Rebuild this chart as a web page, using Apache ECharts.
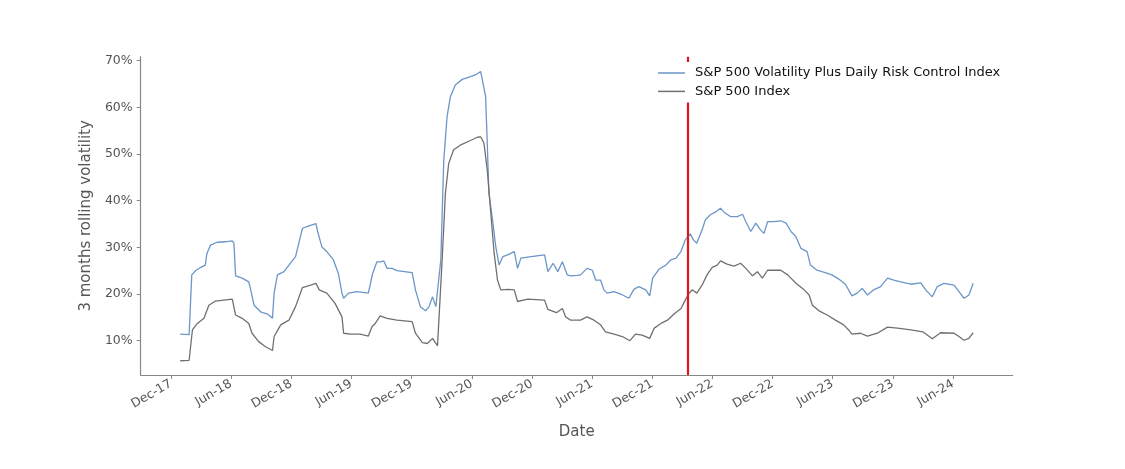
<!DOCTYPE html>
<html>
<head>
<meta charset="utf-8">
<script src="https://cdn.jsdelivr.net/npm/echarts@6/dist/echarts.min.js"></script>
<style>html,body{margin:0;padding:0;background:#fff;}#c{width:1125px;height:469px;}</style>
</head>
<body>
<div id="c"></div>
<script>
var seriesNames = ['S&P 500 Volatility Plus Daily Risk Control Index', 'S&P 500 Index'];
var tickDates = ['2017-12-01','2018-06-01','2018-12-01','2019-06-01','2019-12-01','2020-06-01','2020-12-01','2021-06-01','2021-12-01','2022-06-01','2022-12-01','2023-06-01','2023-12-01','2024-06-01'];
var tickLabels = ['Dec-17','Jun-18','Dec-18','Jun-19','Dec-19','Jun-20','Dec-20','Jun-21','Dec-21','Jun-22','Dec-22','Jun-23','Dec-23','Jun-24'];
var yTicks = [10, 20, 30, 40, 50, 60, 70];
var markerDate = '2022-03-20';

var volPlusDates = ['2017-12-29','2018-01-25','2018-01-29','2018-02-02','2018-02-15','2018-03-01','2018-03-15','2018-03-20','2018-03-31','2018-04-20','2018-05-15','2018-06-05','2018-06-10','2018-06-15','2018-07-05','2018-07-25','2018-07-31','2018-08-10','2018-08-30','2018-09-20','2018-10-05','2018-10-10','2018-10-20','2018-11-09','2018-11-24','2018-12-14','2018-12-24','2019-01-04','2019-01-24','2019-02-14','2019-02-19','2019-03-04','2019-03-19','2019-04-08','2019-04-23','2019-05-04','2019-05-09','2019-05-24','2019-06-18','2019-07-23','2019-08-05','2019-08-18','2019-08-28','2019-09-08','2019-09-18','2019-10-03','2019-10-18','2019-12-03','2019-12-13','2019-12-28','2020-01-13','2020-01-23','2020-02-03','2020-02-13','2020-02-18','2020-02-28','2020-03-08','2020-03-18','2020-03-28','2020-04-12','2020-05-03','2020-05-28','2020-06-13','2020-06-28','2020-07-03','2020-07-13','2020-07-18','2020-07-23','2020-08-03','2020-08-13','2020-08-23','2020-09-03','2020-09-18','2020-10-08','2020-10-18','2020-10-28','2020-11-28','2021-01-08','2021-01-18','2021-02-03','2021-02-17','2021-03-03','2021-03-18','2021-03-28','2021-04-17','2021-04-27','2021-05-17','2021-06-02','2021-06-12','2021-06-27','2021-07-07','2021-07-17','2021-08-07','2021-08-27','2021-09-21','2021-10-06','2021-10-21','2021-11-11','2021-11-23','2021-12-02','2021-12-21','2022-01-11','2022-01-26','2022-02-11','2022-02-26','2022-03-11','2022-03-26','2022-04-05','2022-04-15','2022-05-01','2022-05-11','2022-05-26','2022-06-11','2022-06-26','2022-07-06','2022-07-26','2022-08-16','2022-09-01','2022-09-11','2022-09-26','2022-10-11','2022-10-26','2022-11-05','2022-11-16','2022-12-05','2022-12-26','2023-01-11','2023-01-26','2023-02-10','2023-02-25','2023-03-16','2023-03-26','2023-04-15','2023-05-10','2023-05-30','2023-06-20','2023-07-10','2023-07-30','2023-08-15','2023-08-30','2023-09-15','2023-10-04','2023-10-25','2023-11-15','2023-12-04','2023-12-25','2024-01-25','2024-02-24','2024-03-10','2024-03-30','2024-04-14','2024-05-04','2024-06-04','2024-06-19','2024-07-04','2024-07-19','2024-08-01'];
var volPlusValues = [11.4,11.3,11.5,24.1,25.1,25.7,26.2,28.7,30.5,31.1,31.2,31.4,30.9,23.9,23.4,22.6,20.9,17.6,16.2,15.7,14.8,20.2,24.1,24.8,26.2,28.0,30.9,34.1,34.6,35.1,33.4,30.1,29.1,27.3,24.4,20.2,19.1,20.2,20.5,20.2,24.4,26.9,26.9,27.1,25.5,25.5,25.0,24.6,20.9,17.3,16.4,17.3,19.4,17.3,17.3,27.3,48.7,58.0,62.3,64.8,66.0,66.6,67.0,67.7,65.9,62.3,52.3,41.6,35.9,30.1,26.2,28.0,28.4,29.1,25.5,27.7,28.0,28.4,24.8,26.6,24.8,26.9,24.1,23.9,24.0,24.1,25.5,25.1,23.0,23.0,20.9,20.2,20.5,20.0,19.1,21.0,21.6,20.9,19.6,23.4,25.3,26.2,27.3,27.7,29.1,31.6,32.9,31.6,30.9,33.7,35.9,37.0,37.6,38.4,37.6,36.6,36.6,37.1,35.5,33.4,35.2,33.7,33.0,35.5,35.5,35.7,35.2,33.4,32.3,29.8,29.1,26.2,25.1,24.6,24.1,23.2,22.1,19.6,20.2,21.2,19.8,20.9,21.6,23.4,23.0,22.6,22.1,22.4,20.9,19.4,21.6,22.3,21.9,20.5,19.1,19.8,22.3];

var spxDates = ['2017-12-29','2018-01-25','2018-02-04','2018-02-19','2018-03-11','2018-03-26','2018-04-15','2018-05-10','2018-06-05','2018-06-10','2018-06-15','2018-07-05','2018-07-25','2018-08-04','2018-08-24','2018-09-14','2018-10-05','2018-10-10','2018-10-30','2018-11-24','2018-12-14','2019-01-04','2019-01-29','2019-02-14','2019-02-24','2019-03-19','2019-04-13','2019-05-04','2019-05-09','2019-05-29','2019-06-28','2019-07-23','2019-08-03','2019-08-13','2019-08-28','2019-09-18','2019-10-18','2019-12-03','2019-12-13','2020-01-03','2020-01-18','2020-02-03','2020-02-18','2020-03-03','2020-03-13','2020-03-23','2020-04-07','2020-04-27','2020-05-28','2020-06-18','2020-06-28','2020-07-08','2020-07-18','2020-07-28','2020-08-08','2020-08-18','2020-08-28','2020-09-18','2020-10-08','2020-10-18','2020-11-18','2021-01-08','2021-01-18','2021-02-13','2021-03-03','2021-03-13','2021-03-28','2021-04-27','2021-05-17','2021-06-07','2021-06-27','2021-07-12','2021-08-07','2021-09-01','2021-09-24','2021-10-11','2021-10-31','2021-11-23','2021-12-07','2021-12-27','2022-01-16','2022-02-05','2022-02-26','2022-03-11','2022-03-21','2022-04-01','2022-04-15','2022-05-01','2022-05-16','2022-06-01','2022-06-16','2022-06-26','2022-07-16','2022-08-06','2022-08-26','2022-09-11','2022-10-01','2022-10-16','2022-10-31','2022-11-16','2022-12-26','2023-01-16','2023-02-10','2023-03-07','2023-03-22','2023-04-01','2023-04-21','2023-05-16','2023-06-10','2023-07-05','2023-07-20','2023-07-30','2023-08-25','2023-09-15','2023-10-15','2023-11-15','2023-12-15','2024-01-25','2024-03-01','2024-03-30','2024-04-24','2024-06-04','2024-06-19','2024-07-04','2024-07-19','2024-08-01'];
var spxValues = [5.7,5.8,12.3,13.7,14.8,17.6,18.5,18.7,18.9,18.6,15.5,14.8,13.7,11.6,9.8,8.7,7.9,10.9,13.4,14.4,17.3,21.4,21.9,22.3,20.9,20.2,18.0,15.1,11.6,11.4,11.4,11.0,13.0,13.7,15.3,14.8,14.4,14.1,11.6,9.6,9.4,10.5,8.9,27.3,41.6,48.0,50.9,51.9,52.9,53.6,53.7,52.3,46.6,38.0,28.7,23.0,20.9,21.0,20.9,18.4,18.9,18.7,16.7,16.0,16.9,15.1,14.4,14.4,15.1,14.4,13.4,11.9,11.4,10.9,10.0,11.4,11.2,10.5,12.7,13.7,14.4,15.7,16.9,18.7,20.0,20.9,20.2,21.9,24.1,25.7,26.2,27.1,26.4,26.0,26.6,25.5,23.9,24.8,23.4,25.1,25.1,24.1,22.3,20.9,19.8,17.6,16.4,15.5,14.4,13.4,12.3,11.4,11.6,11.0,11.6,12.9,12.7,12.3,11.9,10.4,11.7,11.6,10.9,10.1,10.5,11.7];

function ts(s){ var p = s.split('-'); return Date.UTC(+p[0], +p[1]-1, +p[2]); }
function pairs(d, v){ return d.map(function(x,i){ return [ts(x), v[i]]; }); }

var tickTs = tickDates.map(ts);
var labelMap = {};
tickTs.forEach(function(t,i){ labelMap[t] = tickLabels[i]; });

var FONT = 'DejaVu Sans';
var chart = echarts.init(document.getElementById('c'), null, {renderer:'canvas'});
chart.setOption({
  backgroundColor: '#fff',
  animation: false,
  grid: { left: 140.7, right: 112.3, top: 56.7, bottom: 94 },
  legend: {
    orient: 'vertical', left: 650, top: 62,
    padding: [4, 6, 4, 8],
    backgroundColor: '#ffffff',
    itemWidth: 27, itemHeight: 1.5, itemGap: 4.4,
    icon: 'rect',
    textStyle: { fontFamily: FONT, fontSize: 13, color: '#111', lineHeight: 14, padding: [0,0,0,5] },
    data: seriesNames,
    z: 10
  },
  xAxis: {
    type: 'value',
    min: ts('2017-08-31'), max: ts('2024-11-29'),
    name: 'Date', nameLocation: 'middle', nameGap: 50,
    nameTextStyle: { fontFamily: FONT, fontSize: 15, color: '#555' },
    axisLine: { lineStyle: { color: '#888', width: 1.2 } },
    axisTick: { show: true, length: 4, lineStyle: { color: '#888' }, customValues: tickTs },
    axisLabel: { rotate: 30, margin: 8, fontFamily: FONT, fontSize: 12.5, color: '#555', hideOverlap: false,
      customValues: tickTs,
      formatter: function(v){ return labelMap[v] || ''; } },
    splitLine: { show: false }
  },
  yAxis: {
    type: 'value', min: 2.65, max: 70.86,
    name: '3 months rolling volatility', nameLocation: 'middle', nameGap: 42, nameRotate: 90,
    nameTextStyle: { fontFamily: FONT, fontSize: 15, color: '#555' },
    axisLine: { show: true, lineStyle: { color: '#888', width: 1.2 } },
    axisTick: { show: true, length: 4, lineStyle: { color: '#888' }, customValues: yTicks },
    axisLabel: { margin: 8, fontFamily: FONT, fontSize: 12.5, color: '#555', customValues: yTicks,
      formatter: function(v){ return v + '%'; } },
    splitLine: { show: false }
  },
  series: [
    { name: seriesNames[0], type: 'line', data: pairs(volPlusDates, volPlusValues), showSymbol: false, symbol: 'none',
      lineStyle: { color: '#6b96c8', width: 1.3 }, itemStyle: { color: '#6b96c8' }, z: 3,
      markLine: { silent: true, symbol: ['none','none'], label: { show: false },
        lineStyle: { color: '#e3141c', width: 2.2, type: 'solid' },
        data: [ { xAxis: ts(markerDate) } ] } },
    { name: seriesNames[1], type: 'line', data: pairs(spxDates, spxValues), showSymbol: false, symbol: 'none',
      lineStyle: { color: '#707070', width: 1.3 }, itemStyle: { color: '#707070' }, z: 3 }
  ]
});
</script>
</body>
</html>
